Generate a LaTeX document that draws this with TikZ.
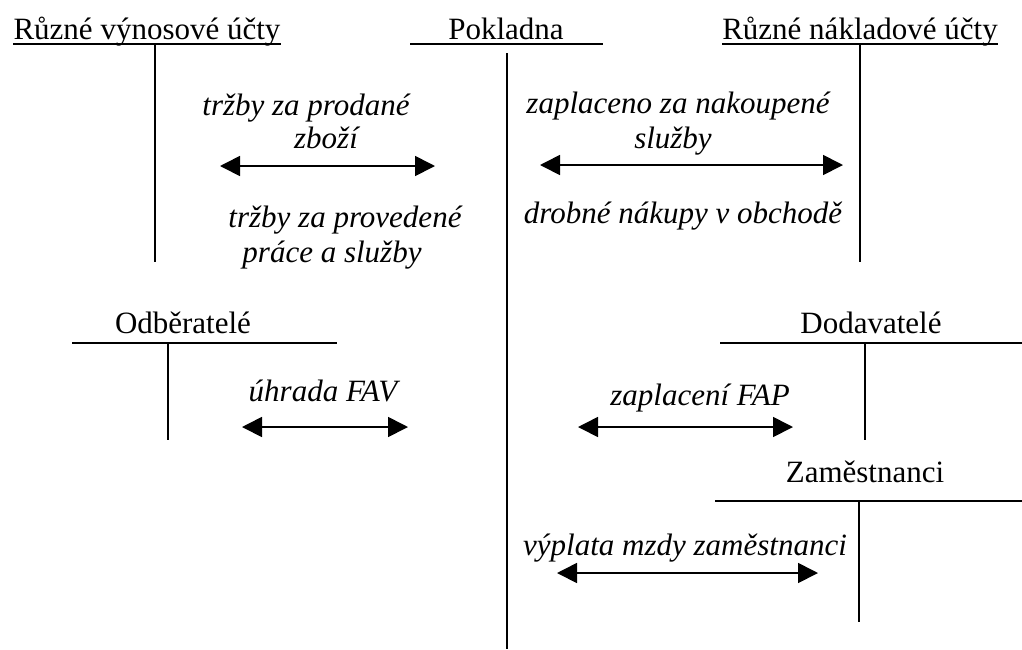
\documentclass[tikz,border=0pt]{standalone}
\usepackage{fontspec}
\setmainfont{Liberation Serif}
\usetikzlibrary{arrows.meta}
\begin{document}
\begin{tikzpicture}[x=1pt,y=-1pt,
  lbl/.style={inner sep=0pt, anchor=base, font=\fontsize{31}{36}\selectfont},
  ilbl/.style={inner sep=0pt, anchor=base, font=\fontsize{31}{36}\selectfont\itshape},
  acc/.style={line width=1.7pt},
  flow/.style={line width=1.7pt, {Triangle[length=20pt,width=20pt]}-{Triangle[length=20pt,width=20pt]}}]
\useasboundingbox (0,0) rectangle (1022,649);

% --- T accounts ---
\node[lbl] (vyn) at (147,39) {Různé výnosové účty};
\draw[acc] ([yshift=-5pt]vyn.base west) -- ([yshift=-5pt]vyn.base east);
\draw[acc] (155,44) -- (155,262);

\node[lbl] (pok) at (506,39) {Pokladna};
\draw[acc] (410,44) -- (603,44);
\draw[acc] (507,53) -- (507,649);

\node[lbl] (nak) at (860,39) {Různé nákladové účty};
\draw[acc] ([yshift=-5pt]nak.base west) -- ([yshift=-5pt]nak.base east);
\draw[acc] (860,44) -- (860,262);

\node[lbl] (odb) at (183,333) {Odběratelé};
\draw[acc] (72,343) -- (337,343);
\draw[acc] (168,343) -- (168,440);

\node[lbl] (dod) at (871,333) {Dodavatelé};
\draw[acc] (720,343) -- (1022,343);
\draw[acc] (865,343) -- (865,440);

\node[lbl] (zam) at (865,482) {Zaměstnanci};
\draw[acc] (715,501) -- (1022,501);
\draw[acc] (859,501) -- (859,622);

% --- labels ---
\node[ilbl] (t1a) at (306,115) {tržby za prodané};
\node[ilbl] (t1b) at (326,148) {zboží};
\node[ilbl] (t2a) at (345,227) {tržby za provedené};
\node[ilbl] (t2b) at (332,262) {práce a služby};
\node[ilbl] (t3a) at (678,113) {zaplaceno za nakoupené};
\node[ilbl] (t3b) at (673,148) {služby};
\node[ilbl] (t4) at (683,223) {drobné nákupy v obchodě};
\node[ilbl] (t5) at (323,401) {úhrada FAV};
\node[ilbl] (t6) at (700,405) {zaplacení FAP};
\node[ilbl] (t7) at (685,555) {výplata mzdy zaměstnanci};

% --- arrows ---
\coordinate (a1l) at (220,166); \coordinate (a1r) at (435,166);
\coordinate (a2l) at (540,165); \coordinate (a2r) at (843,165);
\coordinate (a3l) at (242,427); \coordinate (a3r) at (408,427);
\coordinate (a4l) at (578,427); \coordinate (a4r) at (793,427);
\coordinate (a5l) at (557,573); \coordinate (a5r) at (818,573);
\draw[flow] (a1l) -- (a1r);
\draw[flow] (a2l) -- (a2r);
\draw[flow] (a3l) -- (a3r);
\draw[flow] (a4l) -- (a4r);
\draw[flow] (a5l) -- (a5r);
\end{tikzpicture}
\end{document}
